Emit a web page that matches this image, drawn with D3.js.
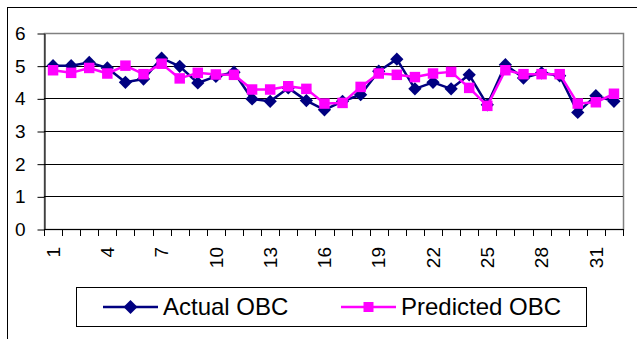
<!DOCTYPE html>
<html>
<head>
<meta charset="utf-8">
<script src="https://cdn.jsdelivr.net/npm/d3@7"></script>
<style>
  html, body { margin: 0; padding: 0; background: #fff; }
  svg { display: block; font-family: "Liberation Sans", Arial, sans-serif; }
</style>
</head>
<body>
<svg id="chart" width="637" height="339"></svg>
<script>
const categories = d3.range(1, 33);
const tickLabels = [1, 4, 7, 10, 13, 16, 19, 22, 25, 28, 31];
const yTicks = [0, 1, 2, 3, 4, 5, 6];
const actualOBC = [5.0, 5.0, 5.1, 4.93, 4.49, 4.59, 5.23, 4.98, 4.47, 4.67, 4.8, 3.98, 3.91, 4.32, 3.93, 3.65,
                   3.91, 4.11, 4.83, 5.2, 4.29, 4.49, 4.29, 4.72, 3.8, 5.03, 4.62, 4.78, 4.69, 3.57, 4.08, 3.91];
const predictedOBC = [4.86, 4.78, 4.93, 4.76, 5.0, 4.74, 5.06, 4.61, 4.78, 4.73, 4.72, 4.27, 4.27, 4.37, 4.29, 3.84,
                      3.86, 4.35, 4.76, 4.72, 4.65, 4.76, 4.81, 4.32, 3.77, 4.86, 4.74, 4.74, 4.74, 3.84, 3.88, 4.14];
const seriesNames = ["Actual OBC", "Predicted OBC"];

const svg = d3.select("#chart");
const L = 44, R = 623, T = 33, B = 229;

// outer frame
svg.append("rect").attr("x", 7.5).attr("y", 7.5).attr("width", 640).attr("height", 340)
  .attr("fill", "none").attr("stroke", "#000").attr("stroke-width", 1);

const x = d3.scaleBand().domain(categories).range([L, R]).paddingInner(0).paddingOuter(0);
const y = d3.scaleLinear().domain([0, 6]).range([B, T]);

// plot border (gray)
svg.append("rect").attr("x", L + 0.5).attr("y", T + 0.5).attr("width", R - L).attr("height", B - T)
  .attr("fill", "none").attr("stroke", "#808080").attr("stroke-width", 1.5);

// gridlines
svg.append("g").selectAll("line").data(yTicks.filter(d => d > 0 && d < 6)).join("line")
  .attr("x1", L).attr("x2", R)
  .attr("y1", d => Math.round(y(d)) + 0.5).attr("y2", d => Math.round(y(d)) + 0.5)
  .attr("stroke", "#000").attr("stroke-width", 1);

// y axis
const yAxis = svg.append("g").attr("transform", `translate(${L + 0.5},0.5)`)
  .call(d3.axisLeft(y).tickValues(yTicks).tickFormat(d3.format("d")).tickSize(7).tickPadding(12).tickSizeOuter(0));
yAxis.select(".domain").attr("stroke", "#000");
yAxis.selectAll("line").attr("stroke", "#000");
yAxis.selectAll("text").attr("font-size", 19).attr("fill", "#000");

// x axis: ticks between categories
const boundaries = categories.map(c => x(c)).concat([x(32) + x.bandwidth()]);
svg.append("line").attr("x1", L).attr("x2", R + 1).attr("y1", B + 0.5).attr("y2", B + 0.5).attr("stroke", "#000");
svg.append("g").selectAll("line").data(boundaries).join("line")
  .attr("x1", d => Math.round(d) + 0.5).attr("x2", d => Math.round(d) + 0.5)
  .attr("y1", B).attr("y2", B + 7).attr("stroke", "#000");

const xAxis = svg.append("g").attr("transform", `translate(0,${B})`)
  .call(d3.axisBottom(x).tickValues(tickLabels).tickSize(0).tickPadding(0));
xAxis.select(".domain").remove();
xAxis.selectAll("text")
  .attr("font-size", 19).attr("fill", "#000")
  .attr("text-anchor", "end")
  .attr("transform", "translate(0,18) rotate(-90)")
  .attr("x", 0).attr("y", 0).attr("dy", "0.35em");

const cx = (d, i) => x(categories[i]) + x.bandwidth() / 2;
const line = d3.line().x((d, i) => cx(d, i)).y(d => y(d));

const diamondSym = d3.symbol().type(d3.symbolSquare).size(88);
const squareSym = d3.symbol().type(d3.symbolSquare).size(110);

function drawSeries(values, color, sym, rot) {
  svg.append("path").datum(values).attr("d", line)
    .attr("fill", "none").attr("stroke", color).attr("stroke-width", 2.5).attr("stroke-linejoin", "round");
  svg.append("g").selectAll("path").data(values).join("path")
    .attr("transform", (d, i) => `translate(${cx(d, i)},${y(d)}) rotate(${rot})`)
    .attr("d", sym).attr("fill", color);
}
drawSeries(actualOBC, "#000080", diamondSym, 45);
drawSeries(predictedOBC, "#FF00FF", squareSym, 0);

// legend
const lg = svg.append("g");
lg.append("rect").attr("x", 76.5).attr("y", 287.5).attr("width", 510).attr("height", 39)
  .attr("fill", "#fff").attr("stroke", "#000");
const legendItems = [
  { name: seriesNames[0], color: "#000080", sym: d3.symbol().type(d3.symbolSquare).size(98), rot: 45, x0: 103 },
  { name: seriesNames[1], color: "#FF00FF", sym: d3.symbol().type(d3.symbolSquare).size(100), rot: 0, x0: 341 }
];
legendItems.forEach(it => {
  lg.append("line").attr("x1", it.x0).attr("x2", it.x0 + 55).attr("y1", 307).attr("y2", 307)
    .attr("stroke", it.color).attr("stroke-width", 2.5);
  lg.append("path").attr("transform", `translate(${it.x0 + 27.5},307) rotate(${it.rot})`).attr("d", it.sym).attr("fill", it.color);
  lg.append("text").attr("x", it.x0 + 60).attr("y", 307).attr("dy", "0.35em")
    .attr("font-size", 24).attr("fill", "#000").text(it.name);
});
</script>
</body>
</html>
